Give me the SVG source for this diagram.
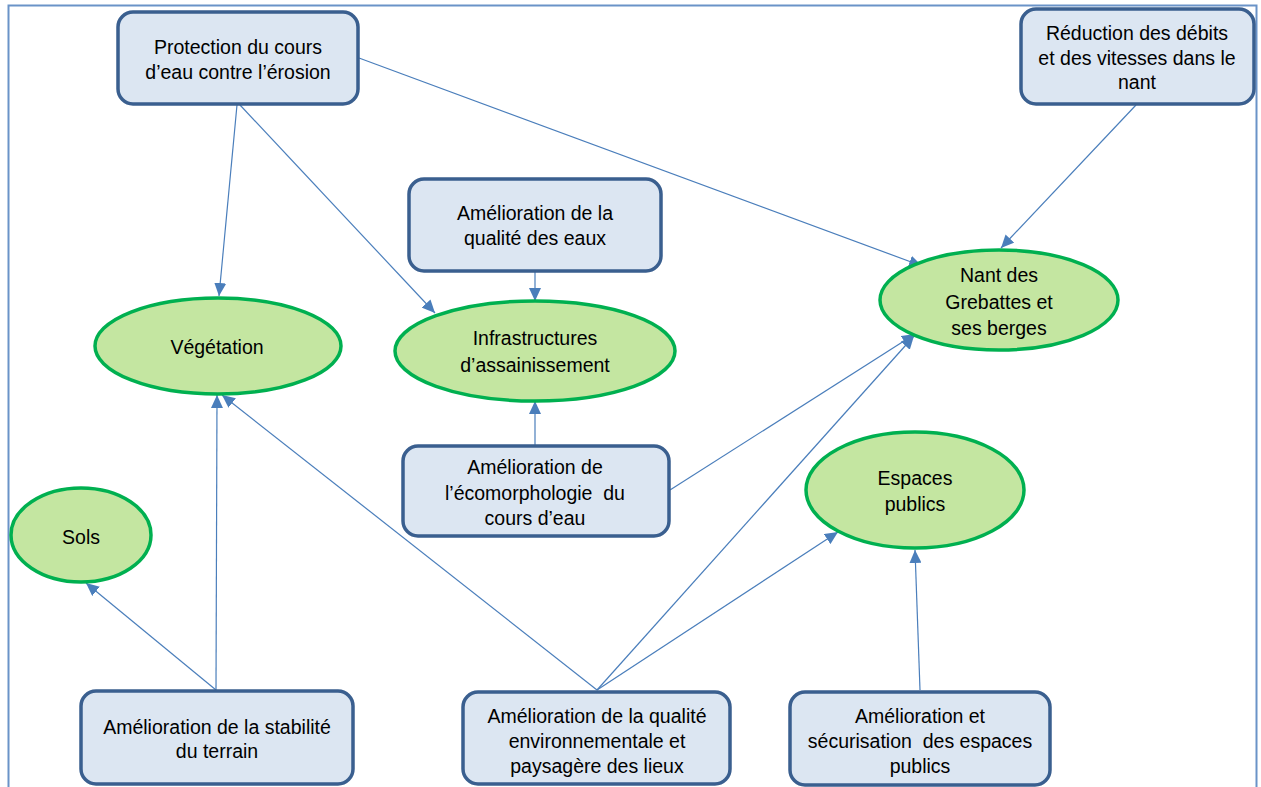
<svg xmlns="http://www.w3.org/2000/svg" width="1261" height="787" viewBox="0 0 1261 787">
<defs>
<style>
.box{fill:#dce6f2;stroke:#3a5f8f;stroke-width:3.5}
.ell{fill:#c4e6a1;stroke:#00b050;stroke-width:3.5}
.lbl{font-family:"Liberation Sans",Arial,sans-serif;font-size:19.5px;fill:#000;text-anchor:middle;white-space:pre}
.con{stroke:#4a7ebb;stroke-width:1.2;fill:none;marker-end:url(#arr)}
</style>
<marker id="arr" markerUnits="userSpaceOnUse" markerWidth="14" markerHeight="12" viewBox="0 0 14 12" refX="13" refY="6" orient="auto">
<path d="M0,0 L13,6 L0,12 Z" fill="#4a7ebb"/>
</marker>
</defs>
<rect x="0" y="0" width="1261" height="787" fill="#fff"/>
<path d="M8.5,800 V5.5 H1256.5 V800" fill="none" stroke="#6a93c8" stroke-width="2"/>

<g id="connectors">
<line class="con" x1="237" y1="105" x2="219" y2="296"/>
<line class="con" x1="240" y1="105" x2="435" y2="313"/>
<line class="con" x1="359" y1="58" x2="922" y2="266"/>
<line class="con" x1="1136" y1="105" x2="1001" y2="248"/>
<line class="con" x1="535" y1="272" x2="535" y2="301"/>
<line class="con" x1="535" y1="446" x2="535" y2="401"/>
<line class="con" x1="670" y1="490" x2="915" y2="334"/>
<line class="con" x1="597" y1="690" x2="914" y2="336"/>
<line class="con" x1="597" y1="690" x2="222" y2="395"/>
<line class="con" x1="597" y1="690" x2="838" y2="532"/>
<line class="con" x1="216" y1="690" x2="217" y2="395"/>
<line class="con" x1="216" y1="690" x2="86" y2="583"/>
<line class="con" x1="920" y1="690" x2="915" y2="550"/>
</g>

<g id="protection">
<rect class="box" x="118" y="12" width="240" height="92" rx="15"/>
<text class="lbl" x="238" y="54">Protection du cours</text>
<text class="lbl" x="238" y="79">d’eau contre l’érosion</text>
</g>
<g id="reduction">
<rect class="box" x="1021" y="9" width="233" height="95" rx="15"/>
<text class="lbl" x="1137" y="40">Réduction des débits</text>
<text class="lbl" x="1137" y="65">et des vitesses dans le</text>
<text class="lbl" x="1137" y="89">nant</text>
</g>
<g id="qualite-eaux">
<rect class="box" x="409" y="179" width="252" height="92" rx="15"/>
<text class="lbl" x="535" y="220">Amélioration de la</text>
<text class="lbl" x="535" y="245">qualité des eaux</text>
</g>
<g id="vegetation">
<ellipse class="ell" cx="218" cy="346" rx="123" ry="48"/>
<text class="lbl" x="217" y="354">Végétation</text>
</g>
<g id="infrastructures">
<ellipse class="ell" cx="535" cy="351" rx="140" ry="50"/>
<text class="lbl" x="535" y="345">Infrastructures</text>
<text class="lbl" x="535" y="372">d’assainissement</text>
</g>
<g id="nant">
<ellipse class="ell" cx="999" cy="300" rx="119" ry="50"/>
<text class="lbl" x="999" y="282">Nant des</text>
<text class="lbl" x="999" y="309">Grebattes et</text>
<text class="lbl" x="999" y="335">ses berges</text>
</g>
<g id="ecomorphologie">
<rect class="box" x="403" y="446" width="266" height="90" rx="15"/>
<text class="lbl" x="535" y="474">Amélioration de</text>
<text class="lbl" x="535" y="500">l’écomorphologie  du</text>
<text class="lbl" x="535" y="525">cours d’eau</text>
</g>
<g id="espaces">
<ellipse class="ell" cx="915" cy="490" rx="109" ry="58"/>
<text class="lbl" x="915" y="485">Espaces</text>
<text class="lbl" x="915" y="511">publics</text>
</g>
<g id="sols">
<ellipse class="ell" cx="81" cy="535" rx="70" ry="47"/>
<text class="lbl" x="81" y="544">Sols</text>
</g>
<g id="stabilite">
<rect class="box" x="81" y="691" width="272" height="93" rx="15"/>
<text class="lbl" x="217" y="734">Amélioration de la stabilité</text>
<text class="lbl" x="217" y="758">du terrain</text>
</g>
<g id="qualite-env">
<rect class="box" x="463" y="692" width="267" height="92" rx="15"/>
<text class="lbl" x="597" y="723">Amélioration de la qualité</text>
<text class="lbl" x="597" y="748">environnementale et</text>
<text class="lbl" x="597" y="773">paysagère des lieux</text>
</g>
<g id="securisation">
<rect class="box" x="790" y="692" width="260" height="93" rx="15"/>
<text class="lbl" x="920" y="723">Amélioration et</text>
<text class="lbl" x="920" y="748">sécurisation  des espaces</text>
<text class="lbl" x="920" y="773">publics</text>
</g>
</svg>
